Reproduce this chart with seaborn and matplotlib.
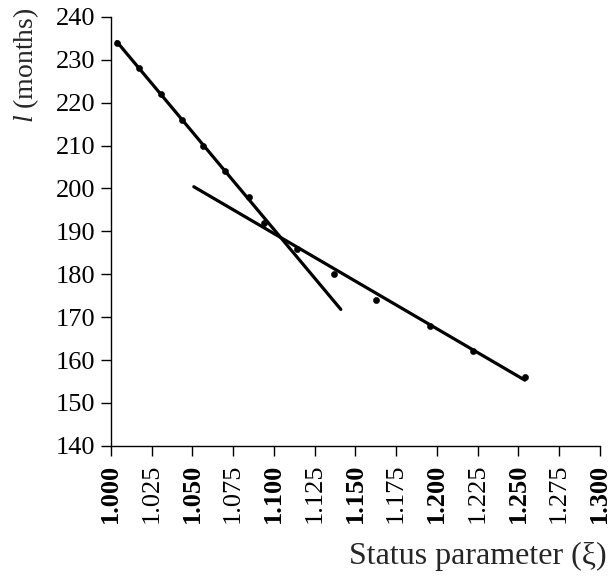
import numpy as np
import pandas as pd
import seaborn as sns
import matplotlib.pyplot as plt

sns.set_theme(style="ticks")
plt.rcParams['font.family'] = ['Liberation Serif', 'DejaVu Serif']
plt.rcParams['mathtext.fontset'] = 'custom'
plt.rcParams['mathtext.it'] = 'Liberation Serif:italic'
plt.rcParams['mathtext.rm'] = 'Liberation Serif'

# observed points
xi = [1.0037, 1.0172, 1.0307, 1.0436, 1.0564, 1.0699, 1.0847, 1.0939,
      1.1141, 1.1368, 1.1626, 1.1957, 1.2221, 1.2540]
life = [234, 228, 222, 216, 210, 204, 198, 192, 186, 180, 174, 168, 162, 156]

# two fitted lines (end points)
fit1_x = [1.0037, 1.1411]
fit1_y = [234.2, 171.8]
fit2_x = [1.0509, 1.2540]
fit2_y = [200.4, 155.3]

xticks = [1.000, 1.025, 1.050, 1.075, 1.100, 1.125, 1.150, 1.175,
          1.200, 1.225, 1.250, 1.275, 1.300]
yticks = [140, 150, 160, 170, 180, 190, 200, 210, 220, 230, 240]

df = pd.DataFrame({"xi": xi, "life": life})

fig, ax = plt.subplots(figsize=(6.09, 5.82), dpi=100)
fig.subplots_adjust(left=0.182, right=0.985, top=0.971, bottom=0.234)

sns.lineplot(x=fit1_x, y=fit1_y, ax=ax, color="black", lw=2.3)
sns.lineplot(x=fit2_x, y=fit2_y, ax=ax, color="black", lw=2.3)
sns.scatterplot(data=df, x="xi", y="life", ax=ax, color="black", s=20,
                edgecolor="black", zorder=3)

ax.set_xlim(1.0, 1.3)
ax.set_ylim(140, 240)
ax.set_xticks(xticks)
ax.set_yticks(yticks)
ax.set_xticklabels([f"{t:.3f}" for t in xticks], rotation=90, fontsize=19)
for i, lab in enumerate(ax.get_xticklabels()):
    if i % 2 == 0:
        lab.set_fontweight("bold")
ax.set_yticklabels([str(t) for t in yticks], fontsize=19)
ax.tick_params(axis="x", direction="out", length=7, width=1, colors="black", pad=6)
ax.tick_params(axis="y", direction="out", length=7, width=1, colors="black", pad=4)

sns.despine(ax=ax)
for s in ["left", "bottom"]:
    ax.spines[s].set_color("black")
    ax.spines[s].set_linewidth(1)

ax.set_xlabel("Status parameter (ξ)", fontsize=23)
ax.xaxis.set_label_coords(1.014, -0.225, transform=ax.transAxes)
ax.xaxis.label.set_horizontalalignment("right")
ax.set_ylabel(r"$\mathit{l}$ (months)", fontsize=20)
ax.yaxis.set_label_coords(-0.142, 1.022)
ax.yaxis.label.set_verticalalignment("bottom")
ax.yaxis.label.set_horizontalalignment("right")

fig.savefig("out.png", dpi=100)
